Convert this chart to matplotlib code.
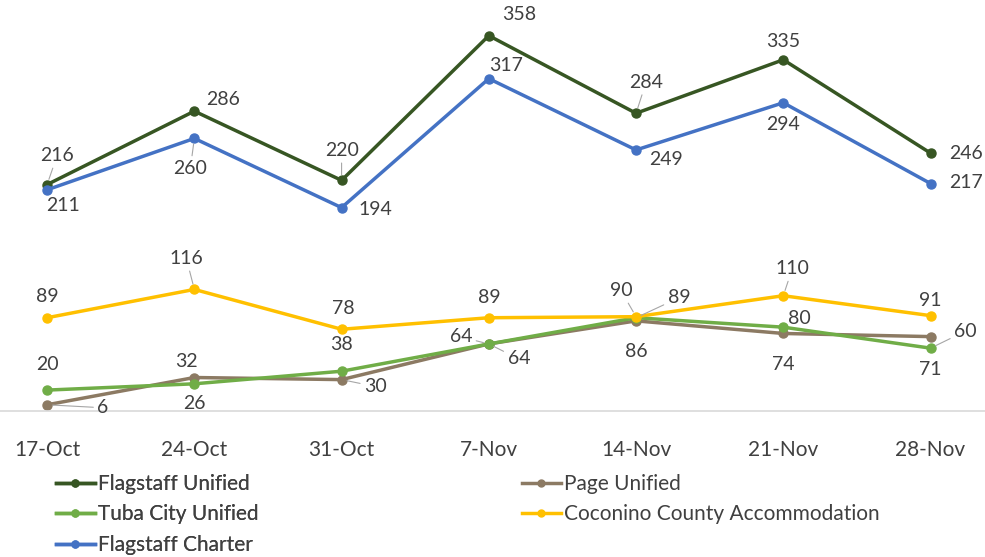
import matplotlib.pyplot as plt
from matplotlib.lines import Line2D

# ---------------------------------------------------------------------------
# Data
# ---------------------------------------------------------------------------
weeks = ["17-Oct", "24-Oct", "31-Oct", "7-Nov", "14-Nov", "21-Nov", "28-Nov"]

flagstaff_unified = [216, 286, 220, 358, 284, 335, 246]
page_unified = [6, 32, 30, 64, 86, 74, 71]
tuba_city_unified = [20, 26, 38, 64, 89, 80, 60]
coconino_accommodation = [89, 116, 78, 89, 90, 110, 91]
flagstaff_charter = [211, 260, 194, 317, 249, 294, 217]

series_names = ["Flagstaff Unified", "Page Unified", "Tuba City Unified",
                "Coconino County Accommodation", "Flagstaff Charter"]

# ---------------------------------------------------------------------------
# Styling / label placement (pixel offsets of each data label from its point,
# plus whether Excel drew a leader line for it)
# ---------------------------------------------------------------------------
colors = {
    "Flagstaff Unified": "#375623",
    "Page Unified": "#8c7a63",
    "Tuba City Unified": "#70ad47",
    "Coconino County Accommodation": "#ffc000",
    "Flagstaff Charter": "#4472c4",
}

label_offsets = {
    "Flagstaff Unified": [(10, 29), (29, 12), (0, 30), (30, 21), (10, 31), (0, 18), (35, 0)],
    "Page Unified": [(56, -3), (-8, 16), (34, -7), (-28, 7), (0, -31), (0, -31), (0, -33)],
    "Tuba City Unified": [(0, 26), (0, -20), (0, 27), (30, -15), (43, 20), (16, 9), (35, 17)],
    "Coconino County Accommodation": [(0, 21), (-8, 31), (2, 21), (0, 20), (-15, 26), (9, 27), (0, 15)],
    "Flagstaff Charter": [(16, -16), (-4, -30), (34, -2), (17, 13), (30, -10), (0, -22), (35, 1)],
}

leaders = {
    "Flagstaff Unified": [1, 0, 1, 0, 1, 0, 0],
    "Page Unified": [1, 0, 1, 1, 0, 0, 0],
    "Tuba City Unified": [0, 0, 0, 1, 1, 0, 1],
    "Coconino County Accommodation": [0, 1, 0, 0, 1, 1, 0],
    "Flagstaff Charter": [0, 1, 0, 0, 0, 0, 0],
}

FONT = "Lato"
TEXT_COLOR = "#404040"


def main() -> None:
    plt.rcParams["font.family"] = [FONT, "DejaVu Sans"]

    fig = plt.figure(figsize=(9.85, 5.57), dpi=100)
    ax = fig.add_axes([0.0, 0.262, 1.0, 0.738])

    data = {
        "Flagstaff Unified": flagstaff_unified,
        "Page Unified": page_unified,
        "Tuba City Unified": tuba_city_unified,
        "Coconino County Accommodation": coconino_accommodation,
        "Flagstaff Charter": flagstaff_charter,
    }
    x = list(range(len(weeks)))

    for name in series_names:
        vals = data[name]
        ax.plot(x, vals, "-o", color=colors[name], linewidth=2.5,
                markersize=6.5, solid_joinstyle="miter")
        for xi, v, (dx, dy), lead in zip(x, vals, label_offsets[name], leaders[name]):
            arrow = None
            if lead:
                arrow = dict(arrowstyle="-", color="#a6a6a6", lw=0.8,
                             shrinkA=1, shrinkB=4)
            ax.annotate(str(v), (xi, v), xytext=(dx, dy), textcoords="offset pixels",
                        ha="center", va="center", fontsize=14, color=TEXT_COLOR,
                        arrowprops=arrow)

    ax.set_xlim(-0.32, 6.37)
    ax.set_ylim(0, 392)
    ax.set_xticks(x)
    ax.set_xticklabels(weeks, fontsize=15, color=TEXT_COLOR)
    ax.tick_params(axis="x", length=0, pad=20.5)
    ax.set_yticks([])
    for side in ("top", "left", "right"):
        ax.spines[side].set_visible(False)
    ax.spines["bottom"].set_color("#d9d9d9")
    ax.spines["bottom"].set_linewidth(1.2)

    def handle(name):
        return Line2D([0], [0], color=colors[name], marker="o", linewidth=2.5,
                      markersize=5)

    left_names = ["Flagstaff Unified", "Tuba City Unified", "Flagstaff Charter"]
    right_names = ["Page Unified", "Coconino County Accommodation"]
    legend_style = dict(loc="upper left", frameon=False, fontsize=15,
                        handlelength=1.85, handletextpad=0.15, labelspacing=0.5,
                        labelcolor=TEXT_COLOR, borderaxespad=0, borderpad=0)
    leg1 = fig.legend([handle(n) for n in left_names], left_names,
                      bbox_to_anchor=(0.057, 0.149), **legend_style)
    fig.add_artist(leg1)
    fig.legend([handle(n) for n in right_names], right_names,
               bbox_to_anchor=(0.530, 0.149), **legend_style)

    fig.savefig("out.png", dpi=100, facecolor="white")


if __name__ == "__main__":
    main()
